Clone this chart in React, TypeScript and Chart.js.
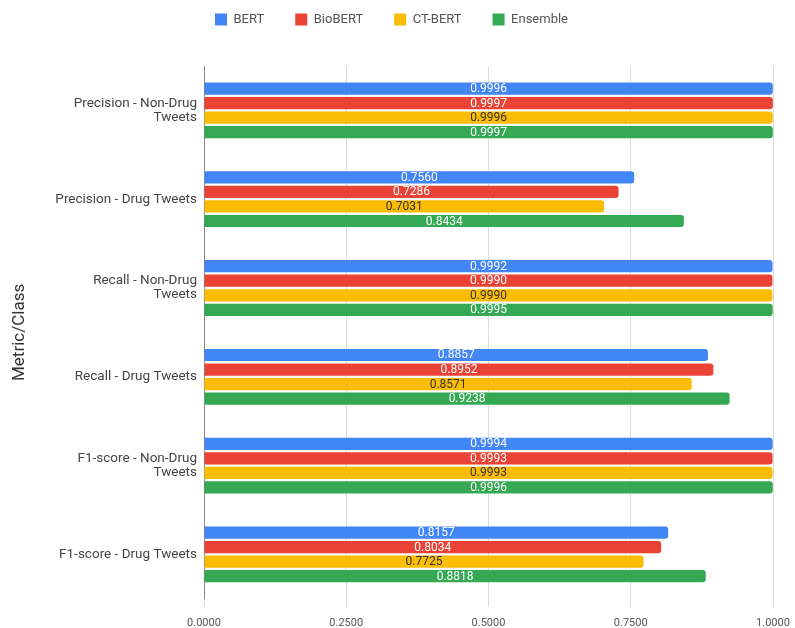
import React, { useEffect, useRef } from "react";
import { Chart, registerables } from "chart.js";

Chart.register(...registerables);

const categories: string[][] = [
  ["Precision - Non-Drug", "Tweets"],
  ["Precision - Drug Tweets"],
  ["Recall - Non-Drug", "Tweets"],
  ["Recall - Drug Tweets"],
  ["F1-score - Non-Drug", "Tweets"],
  ["F1-score - Drug Tweets"],
];
const seriesNames = ["BERT", "BioBERT", "CT-BERT", "Ensemble"];
const bert = [0.9996, 0.756, 0.9992, 0.8857, 0.9994, 0.8157];
const biobert = [0.9997, 0.7286, 0.999, 0.8952, 0.9993, 0.8034];
const ctbert = [0.9996, 0.7031, 0.999, 0.8571, 0.9993, 0.7725];
const ensemble = [0.9997, 0.8434, 0.9995, 0.9238, 0.9996, 0.8818];
const xTicks = [0, 0.25, 0.5, 0.75, 1.0];

const colors = ["#4285F4", "#EA4335", "#FBBC04", "#34A853"];
const labelColors = ["#ffffff", "#ffffff", "#333333", "#ffffff"];

const valueLabels = {
  id: "valueLabels",
  afterDatasetsDraw(chart: any) {
    const ctx = chart.ctx;
    ctx.save();
    ctx.font = "12px Roboto";
    ctx.textAlign = "center";
    ctx.textBaseline = "middle";
    chart.data.datasets.forEach((ds: any, i: number) => {
      const meta = chart.getDatasetMeta(i);
      meta.data.forEach((el: any, j: number) => {
        const v = ds.data[j];
        ctx.fillStyle = labelColors[i];
        ctx.fillText(v.toFixed(4), (el.x + el.base) / 2, el.y + 0.5);
      });
    });
    ctx.restore();
  },
};

const legendMargin = {
  id: "legendMargin",
  beforeInit(chart: any) {
    const legend = chart.legend;
    if (!legend) return;
    const fit = legend.fit;
    legend.fit = function () {
      fit.call(this);
      this.height += 30;
    };
  },
};

export default function App() {
  const ref = useRef<HTMLCanvasElement>(null);
  useEffect(() => {
    document.body.style.margin = "0";
    const datasets = [bert, biobert, ctbert, ensemble].map((d, i) => ({
      label: seriesNames[i],
      data: d,
      backgroundColor: colors[i],
      borderWidth: 0,
      borderRadius: { topRight: 3, bottomRight: 3, topLeft: 0, bottomLeft: 0 },
      borderSkipped: false,
      categoryPercentage: 0.655,
      barPercentage: 0.84,
    }));
    const chart = new Chart(ref.current!, {
      type: "bar",
      data: { labels: categories, datasets },
      options: {
        indexAxis: "y",
        animation: false,
        responsive: false,
        layout: { padding: { left: 10, right: 22, top: -18, bottom: -12 } },
        plugins: {
          legend: {
            position: "top",
            labels: {
              boxWidth: 12,
              boxHeight: 12,
              padding: 31,
              color: "#555",
              font: { family: "Roboto", size: 13 },
            },
          },
          tooltip: { enabled: false },
        },
        scales: {
          x: {
            min: 0,
            max: 1,
            afterBuildTicks: (s: any) => {
              s.ticks = xTicks.map((v) => ({ value: v }));
            },
            afterFit: (s: any) => {
              s.paddingLeft = 0;
              s.paddingRight = 0;
            },
            ticks: {
              callback: (v: any) => Number(v).toFixed(4),
              color: "#555",
              font: { family: "Roboto", size: 11 },
              padding: 10,
            },
            grid: { color: "#dddddd", tickLength: 8 },
            border: { display: false },
          },
          y: {
            afterFit: (s: any) => {
              s.width = 194;
            },
            ticks: {
              color: "#444",
              font: { family: "Roboto", size: 13.5, lineHeight: 1.05 },
              padding: 7,
            },
            grid: { display: false, drawTicks: false },
            border: { display: true, color: "#888", width: 1 },
            title: {
              display: true,
              text: "Metric/Class",
              color: "#333",
              font: { family: "Roboto", size: 17 },
              padding: 0,
            },
          },
        },
      },
      plugins: [valueLabels, legendMargin],
    } as any);
    return () => chart.destroy();
  }, []);
  return (
    <div style={{ position: "absolute", left: 0, top: 0, width: 795, height: 628, background: "#fff" }}>
      <canvas ref={ref} width={795} height={628} style={{ display: "block" }} />
    </div>
  );
}
